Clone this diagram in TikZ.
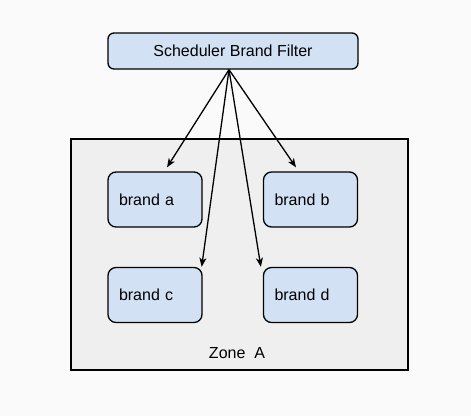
\documentclass[tikz,border=0pt]{standalone}
\usepackage{fontspec}
\setmainfont{Liberation Sans}
\usetikzlibrary{arrows.meta,calc}
\definecolor{boxblue}{HTML}{D2E2F4}
\definecolor{zonegray}{HTML}{EFEFEF}
\definecolor{bggray}{HTML}{FAFAFA}
\tikzset{
  every node/.style={font=\fontsize{16}{19}\selectfont},
  filterbox/.style={draw=black, fill=boxblue, line width=1.3pt, rounded corners=6pt,
    minimum width=250pt, minimum height=36pt, inner sep=0pt},
  brandbox/.style={draw=black, fill=boxblue, line width=1.3pt, rounded corners=8pt,
    minimum width=94pt, minimum height=55pt, inner xsep=11pt, inner ysep=0pt,
    text width=72pt, align=left},
  zonebox/.style={draw=black, fill=zonegray, line width=1.2pt,
    minimum width=337pt, minimum height=231pt, inner sep=0pt},
  conn/.style={line width=1.3pt, -{Stealth[length=9pt,width=7pt,inset=2.5pt]}}
}
\begin{document}
\begin{tikzpicture}[x=1pt,y=-1pt]
\fill[bggray] (0,0) rectangle (471,416);
\useasboundingbox (0,0) rectangle (471,416);
\node[zonebox] (zone) at (239.5,254.5) {};
\node (zlabel) at (237,353) {Zone~~A};
\node[filterbox] (top) at (233,51) {Scheduler Brand Filter};
\node[brandbox] (a) at (155,199.5) {brand a};
\node[brandbox] (b) at (310.5,199.5) {brand b};
\node[brandbox] (c) at (155,295) {brand c};
\node[brandbox] (d) at (310.5,295) {brand d};
\coordinate (src) at ($(top.south)+(-4,0)$);
\coordinate (ta) at ($(a.north)+(12,-4)$);
\coordinate (tb) at ($(b.north)+(-14.5,-4)$);
\coordinate (tc) at ($(c.north east)+(-1,0)$);
\coordinate (td) at ($(d.north west)+(-2,0)$);
\draw[conn] (src) -- (ta);
\draw[conn] (src) -- (tb);
\draw[conn] (src) -- (tc);
\draw[conn] (src) -- (td);
\end{tikzpicture}
\end{document}
